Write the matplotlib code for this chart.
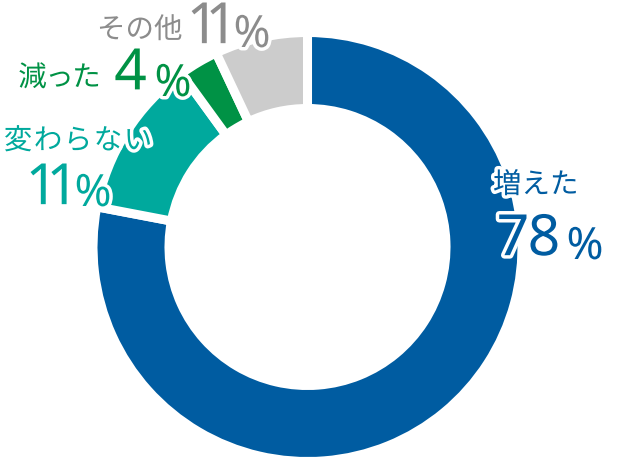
import matplotlib
matplotlib.use('Agg')
import matplotlib.pyplot as plt
import matplotlib.patheffects as pe

# slices clockwise from 12 o'clock
categories = ['増えた', '変わらない', '減った', 'その他']
shares = [78, 12, 3, 7]            # slice sizes as drawn
pct_labels = ['78', '11', '4', '11']  # numbers printed next to the slices
slice_colors = ['#005ca1', '#00a99d', '#009245', '#cccccc']
text_colors = ['#005ca1', '#00a99d', '#009245', '#8c8c8c']

W, H = 620, 458
JP = ['Noto Sans CJK JP', 'DejaVu Sans']
NUM = ['Noto Sans', 'DejaVu Sans']

plt.rcParams['mathtext.fontset'] = 'custom'
plt.rcParams['mathtext.rm'] = 'Noto Sans'
plt.rcParams['mathtext.it'] = 'Noto Sans'

fig = plt.figure(figsize=(W / 100, H / 100), dpi=100)
ax = fig.add_axes([0, 0, 1, 1])

# donut: white strokes give the gaps between slices
ax.pie(shares, colors=slice_colors, startangle=90, counterclock=False,
       center=(307.5, H - 247), radius=214.5,
       wedgeprops=dict(width=76, edgecolor='white', linewidth=6.5))
ax.set_xlim(0, W)
ax.set_ylim(0, H)
ax.set_aspect('equal')
ax.axis('off')

halo = [pe.withStroke(linewidth=5, foreground='white')]


def put(x0, pitch, y, s, size, color, family, weight='normal'):
    # one char at a time so the letter spacing follows the reference
    for i, ch in enumerate(s):
        ax.text(x0 + pitch * (i + 0.5), H - y, ch, fontsize=size, color=color,
                family=family, fontweight=weight, ha='center', va='center',
                path_effects=halo)


def put_tight(x, y, s, size, color, squeeze):
    # digits pulled together with a negative mathtext space
    tex = ('\\hspace{%.2f}' % -squeeze).join('\\mathrm{%s}' % ch for ch in s)
    ax.text(x, H - y, '$' + tex + '$', fontsize=size, color=color,
            ha='center', va='center', path_effects=halo)


# label layout (pixel coords, y down)
name_spots = {'増えた': (493, 28.5, 185), '変わらない': (3, 30, 141),
              '減った': (19, 27, 78), 'その他': (97, 28.5, 30)}
num_spots = {'増えた': (528, 240, 0.03), '変わらない': (47, 189, 0.22),
             '減った': (131, 74, 0.0), 'その他': (207, 28, 0.26)}
pct_spots = {'増えた': (585, 248), '変わらない': (93, 195),
             '減った': (173, 85), 'その他': (252, 36)}

for cat, pct, col in zip(categories, pct_labels, text_colors):
    x0, pitch, ny = name_spots[cat]
    put(x0, pitch, ny, cat, 20.5, col, JP)
    vx, vy, sq = num_spots[cat]
    put_tight(vx, vy, pct, 41, col, sq)
    px, py = pct_spots[cat]
    put(px - 15, 30, py, '%', 32, col, NUM, 'light')

fig.savefig('out.png', dpi=100)
